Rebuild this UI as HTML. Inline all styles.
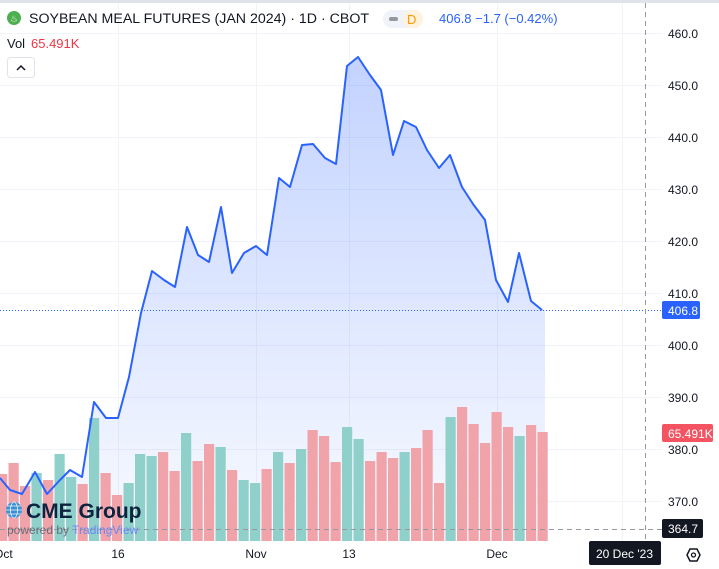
<!DOCTYPE html>
<html><head><meta charset="utf-8"><style>
body{margin:0;width:719px;height:569px;overflow:hidden;background:#fff;font-family:"Liberation Sans",sans-serif;position:relative}
</style></head><body>
<svg width="719" height="569" style="position:absolute;left:0;top:0" font-family="Liberation Sans, sans-serif">
<defs><linearGradient id="g" x1="0" y1="0" x2="0" y2="1">
<stop offset="0" stop-color="#2962ff" stop-opacity="0.28"/><stop offset="1" stop-color="#2962ff" stop-opacity="0.03"/></linearGradient></defs>
<rect x="0" y="0" width="719" height="3" fill="#e0e3eb"/>
<g stroke="#f0f3fa" stroke-width="1">
<line x1="0" y1="33.5" x2="662" y2="33.5"/><line x1="0" y1="85.5" x2="662" y2="85.5"/><line x1="0" y1="137.5" x2="662" y2="137.5"/><line x1="0" y1="189.5" x2="662" y2="189.5"/><line x1="0" y1="241.5" x2="662" y2="241.5"/><line x1="0" y1="293.5" x2="662" y2="293.5"/><line x1="0" y1="345.5" x2="662" y2="345.5"/><line x1="0" y1="397.5" x2="662" y2="397.5"/><line x1="0" y1="449.5" x2="662" y2="449.5"/><line x1="0" y1="501.5" x2="662" y2="501.5"/>
<line x1="118.5" y1="3" x2="118.5" y2="541"/><line x1="256.5" y1="3" x2="256.5" y2="541"/><line x1="349.5" y1="3" x2="349.5" y2="541"/><line x1="497.5" y1="3" x2="497.5" y2="541"/><line x1="622.5" y1="3" x2="622.5" y2="541"/>
</g>
<polygon fill="url(#g)" points="0,478 0,478 10,490 22,494 35,472 47,494 60,480 70,470 82,477 94,402 106,418 118,418 129,377 141,313 152,271 164,280 175,287 187,227 198,255 209,262 221,207 232,273 244,253 256,246 267,255 279,178 290,187 302,145 313,144 325,158 336,164 347,66 358,57 370,75 381,90 393,155 404,121 416,127 427,150 439,168 450,155 462,187 473,204 485,220 496,280 508,302 519,253 531,301 542,310 545,310 545,541 0,541"/>
<g id="bars"></g>
<polyline fill="none" stroke="#2962ff" stroke-width="2" stroke-linejoin="round" points="0,478 10,490 22,494 35,472 47,494 60,480 70,470 82,477 94,402 106,418 118,418 129,377 141,313 152,271 164,280 175,287 187,227 198,255 209,262 221,207 232,273 244,253 256,246 267,255 279,178 290,187 302,145 313,144 325,158 336,164 347,66 358,57 370,75 381,90 393,155 404,121 416,127 427,150 439,168 450,155 462,187 473,204 485,220 496,280 508,302 519,253 531,301 542,310"/>
<line x1="0" y1="310.5" x2="662" y2="310.5" stroke="#2962ff" stroke-width="1" stroke-dasharray="1,2"/>
<line x1="0" y1="529.5" x2="662" y2="529.5" stroke="#9598a1" stroke-dasharray="5,4"/>
<line x1="645.5" y1="3" x2="645.5" y2="541" stroke="#9598a1" stroke-dasharray="5,4"/>
<g font-size="12" fill="#131722">
<text x="668" y="38">460.0</text><text x="668" y="90">450.0</text><text x="668" y="142">440.0</text><text x="668" y="194">430.0</text><text x="668" y="246">420.0</text><text x="668" y="298">410.0</text><text x="668" y="350">400.0</text><text x="668" y="402">390.0</text><text x="668" y="454">380.0</text><text x="668" y="506">370.0</text>
<text x="-6" y="558">Oct</text><text x="118" y="558" text-anchor="middle">16</text><text x="256" y="558" text-anchor="middle">Nov</text><text x="349" y="558" text-anchor="middle">13</text><text x="497" y="558" text-anchor="middle">Dec</text>
</g>
<rect x="662" y="301" width="38" height="18" rx="2" fill="#2962ff"/><text x="668" y="315" font-size="12" fill="#fff">406.8</text>
<rect x="662" y="424" width="51" height="18" rx="2" fill="#f23645" opacity="0.85"/><text x="668" y="438" font-size="12" fill="#fff">65.491K</text>
<rect x="662" y="519" width="41" height="19" rx="2" fill="#131722"/><text x="668" y="533" font-size="12" fill="#fff">364.7</text>
<rect x="589" y="541" width="72" height="24" rx="2" fill="#131722"/><text x="596" y="558" font-size="12" fill="#fff">20 Dec '23</text>
<polygon points="687,555 690,549 697,549 700,555 697,561 690,561" fill="none" stroke="#131722" stroke-width="1.5"/><circle cx="693.5" cy="555" r="2" fill="none" stroke="#131722" stroke-width="1.3"/>
<circle cx="14" cy="18" r="7" fill="#4caf50"/><text x="14" y="21.5" font-size="9" fill="#fff" text-anchor="middle">♨</text>
<text x="29" y="23" font-size="14.2" fill="#131722">SOYBEAN MEAL FUTURES (JAN 2024) · 1D · CBOT</text>
<rect x="383" y="10" width="40" height="18" rx="9" fill="#f0f3fa"/><rect x="403" y="10" width="20" height="18" rx="9" fill="#fff3e0"/><rect x="389" y="17" width="9" height="4" rx="2" fill="#9598a1"/>
<text x="407" y="24" font-size="13" fill="#ff9800">D</text>
<text x="439" y="23" font-size="13" fill="#2962ff">406.8  −1.7 (−0.42%)</text>
<text x="7" y="48" font-size="13" fill="#131722">Vol</text><text x="31" y="48" font-size="13" fill="#f23645">65.491K</text>
<rect x="7.5" y="57.5" width="27" height="20" rx="3" fill="#fff" stroke="#e0e3eb"/><polyline points="17,70 21,66 25,70" fill="none" stroke="#131722" stroke-width="1.5"/>
<circle cx="14" cy="510" r="8" fill="#3b8fd6"/><g stroke="#fff" stroke-width="0.7" fill="none"><ellipse cx="14" cy="510" rx="3.5" ry="8"/><line x1="6" y1="510" x2="22" y2="510"/><line x1="7" y1="506" x2="21" y2="506"/><line x1="7" y1="514" x2="21" y2="514"/></g>
<text x="26" y="518" font-size="21" font-weight="600" fill="#0d2340">CME Group</text>
<text x="7" y="534" font-size="12" fill="#6a6d78">powered by <tspan fill="#6c86f7">TradingView</tspan></text>
</svg>
<script>
var d=[["p",474],["p",463],["p",486],["t",473],["p",480],["t",454],["t",477],["p",484],["t",418],["p",473],["p",495],["t",483],["t",454],["t",456],["p",452],["p",471],["t",433],["p",461],["p",444],["t",447],["p",470],["t",480],["t",483],["p",469],["t",452],["p",463],["t",449],["p",430],["p",436],["p",462],["t",427],["t",439],["p",461],["p",452],["p",458],["t",452],["p",448],["p",430],["p",483],["t",417],["p",407],["p",424],["p",443],["p",412],["p",427],["t",436],["p",425],["p",432]];
var s="";d.forEach(function(b,i){var x=-3+11.5*i;s+='<rect x="'+x+'" y="'+b[1]+'" width="10.2" height="'+(541-b[1])+'" fill="'+(b[0]=="t"?"#8fd0cb":"#f0a3a8")+'"/>';});
document.getElementById("bars").innerHTML=s;
</script>
</body></html>
